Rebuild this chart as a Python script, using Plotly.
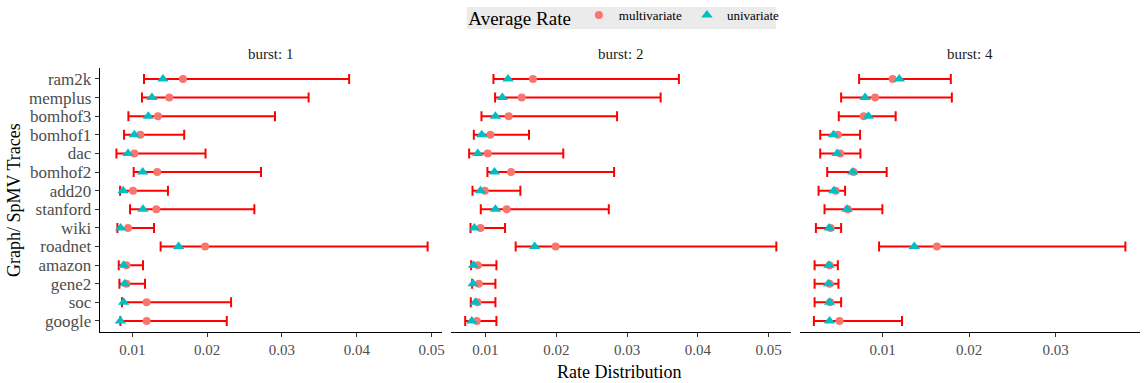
import plotly.graph_objects as go

# Sparse-matrix traces, listed top to bottom
traces = ["ram2k", "memplus", "bomhof3", "bomhof1", "dac", "bomhof2", "add20",
          "stanford", "wiki", "roadnet", "amazon", "gene2", "soc", "google"]

bursts = [1, 2, 4]

# burst: 1
b1_lower = [0.01156, 0.01129, 0.00947, 0.00889, 0.00787, 0.01018, 0.00836,
            0.00969, 0.00800, 0.01378, 0.00818, 0.00827, 0.00862, 0.00840]
b1_upper = [0.03898, 0.03356, 0.02907, 0.01693, 0.01978, 0.02720, 0.01476,
            0.02631, 0.01289, 0.04947, 0.01142, 0.01169, 0.02320, 0.02262]
b1_multi = [0.01676, 0.01493, 0.01342, 0.01107, 0.01027, 0.01333, 0.01009,
            0.01320, 0.00942, 0.01973, 0.00920, 0.00920, 0.01191, 0.01191]
b1_uni = [0.01409, 0.01262, 0.01213, 0.01027, 0.00942, 0.01138, 0.00876,
          0.01142, 0.00844, 0.01618, 0.00884, 0.00898, 0.00884, 0.00840]

# burst: 2
b2_lower = [0.01113, 0.01136, 0.00944, 0.00836, 0.00770, 0.01028, 0.00817,
            0.00934, 0.00789, 0.01427, 0.00798, 0.00812, 0.00793, 0.00714]
b2_upper = [0.03732, 0.03474, 0.02859, 0.01615, 0.02099, 0.02817, 0.01493,
            0.02742, 0.01277, 0.05108, 0.01155, 0.01141, 0.01141, 0.01155]
b2_multi = [0.01671, 0.01512, 0.01329, 0.01070, 0.01033, 0.01362, 0.00991,
            0.01300, 0.00930, 0.01991, 0.00892, 0.00906, 0.00887, 0.00878]
b2_uni = [0.01319, 0.01239, 0.01141, 0.00948, 0.00892, 0.01127, 0.00930,
          0.01141, 0.00845, 0.01695, 0.00831, 0.00826, 0.00859, 0.00808]

# burst: 4
b4_lower = [0.00727, 0.00519, 0.00492, 0.00277, 0.00277, 0.00358, 0.00258,
            0.00327, 0.00227, 0.00958, 0.00212, 0.00212, 0.00212, 0.00204]
b4_upper = [0.01788, 0.01800, 0.01150, 0.00738, 0.00742, 0.01046, 0.00565,
            0.00996, 0.00519, 0.03808, 0.00481, 0.00488, 0.00519, 0.01223]
b4_multi = [0.01115, 0.00912, 0.00781, 0.00481, 0.00508, 0.00662, 0.00454,
            0.00596, 0.00396, 0.01627, 0.00385, 0.00385, 0.00392, 0.00500]
b4_uni = [0.01192, 0.00796, 0.00835, 0.00431, 0.00473, 0.00654, 0.00435,
          0.00588, 0.00381, 0.01365, 0.00377, 0.00373, 0.00385, 0.00385]

panels = [
    (b1_lower, b1_upper, b1_multi, b1_uni),
    (b2_lower, b2_upper, b2_multi, b2_uni),
    (b4_lower, b4_upper, b4_multi, b4_uni),
]

W, H = 1145, 383
FONT = "Liberation Serif"
TICK_GREY = "#4D4D4D"

x_domains = [[100 / W, 443 / W], [452 / W, 793 / W], [802 / W, 1143 / W]]
x_ranges = [[0.00564, 0.05137], [0.00511, 0.05314], [0.00042, 0.03977]]
y_domain = [1 - 332 / H, 1 - 67 / H]

fig = go.Figure()

for i, (lo, up, mv, uv) in enumerate(panels):
    sfx = "" if i == 0 else str(i + 1)
    xa, ya = "x" + sfx, "y" + sfx
    # range bars from min to max
    fig.add_trace(go.Scatter(
        x=mv, y=traces, mode="markers", xaxis=xa, yaxis=ya,
        marker=dict(size=1, opacity=0),
        error_x=dict(type="data", symmetric=False,
                     array=[u - m for u, m in zip(up, mv)],
                     arrayminus=[m - l for m, l in zip(mv, lo)],
                     color="#FF0000", thickness=2, width=5),
        showlegend=False, hoverinfo="skip"))
    fig.add_trace(go.Scatter(
        x=mv, y=traces, mode="markers", xaxis=xa, yaxis=ya,
        name="multivariate", legendgroup="m", showlegend=(i == 0),
        marker=dict(symbol="circle", size=8, color="#F8766D")))
    fig.add_trace(go.Scatter(
        x=uv, y=traces, mode="markers", xaxis=xa, yaxis=ya,
        name="univariate", legendgroup="u", showlegend=(i == 0),
        marker=dict(symbol="triangle-up", size=10, color="#00BFC4")))

    fig.layout["xaxis" + sfx] = dict(
        domain=x_domains[i], range=x_ranges[i], anchor=ya,
        tickmode="array",
        tickvals=[0.01, 0.02, 0.03, 0.04, 0.05],
        ticktext=["0.01", "0.02", "0.03", "0.04", "0.05"],
        showline=True, linecolor="black", linewidth=1,
        ticks="outside", ticklen=4, tickcolor="#333333",
        showgrid=False, zeroline=False,
        tickfont=dict(family=FONT, size=15, color=TICK_GREY))
    fig.layout["yaxis" + sfx] = dict(
        domain=y_domain, anchor=xa, type="category",
        categoryorder="array", categoryarray=traces[::-1],
        tickmode="array", tickvals=traces, ticktext=traces,
        range=[-0.6, 13.6], showgrid=False, zeroline=False,
        showline=(i == 0), linecolor="black", linewidth=1,
        ticks="outside" if i == 0 else "", ticklen=4, tickcolor="#333333",
        showticklabels=(i == 0),
        tickfont=dict(family=FONT, size=17, color=TICK_GREY))

    cx = (x_domains[i][0] + x_domains[i][1]) / 2
    fig.add_annotation(x=cx, y=1 - 53 / H, xref="paper", yref="paper",
                       xanchor="center", yanchor="middle",
                       text="burst: %d" % bursts[i], showarrow=False,
                       font=dict(family=FONT, size=15, color="#1A1A1A"))

fig.add_annotation(x=621 / W, y=1 - 372 / H, xref="paper", yref="paper",
                   xanchor="center", yanchor="middle",
                   text="Rate Distribution", showarrow=False,
                   font=dict(family=FONT, size=18, color="black"))
fig.add_annotation(x=14 / W, y=(y_domain[0] + y_domain[1]) / 2, xref="paper", yref="paper",
                   xanchor="center", yanchor="middle",
                   text="Graph/ SpMV Traces", showarrow=False, textangle=-90,
                   font=dict(family=FONT, size=18, color="black"))

# grey backdrop behind the legend
fig.add_shape(type="rect", xref="paper", yref="paper",
              x0=468 / W, x1=778 / W, y0=1 - 28 / H, y1=1 - 6 / H,
              fillcolor="#EBEBEB", line=dict(width=0), layer="below")

fig.update_layout(
    width=W, height=H,
    margin=dict(l=0, r=0, t=0, b=0),
    plot_bgcolor="white", paper_bgcolor="white",
    legend=dict(orientation="h", x=627 / W, xanchor="center", y=1 - 16.5 / H, yanchor="middle",
                bgcolor="rgba(0,0,0,0)",
                title=dict(text="Average Rate", font=dict(family=FONT, size=19, color="black")),
                font=dict(family=FONT, size=13, color="black"),
                itemwidth=30, tracegroupgap=0),
)

fig.write_html("out.html")
